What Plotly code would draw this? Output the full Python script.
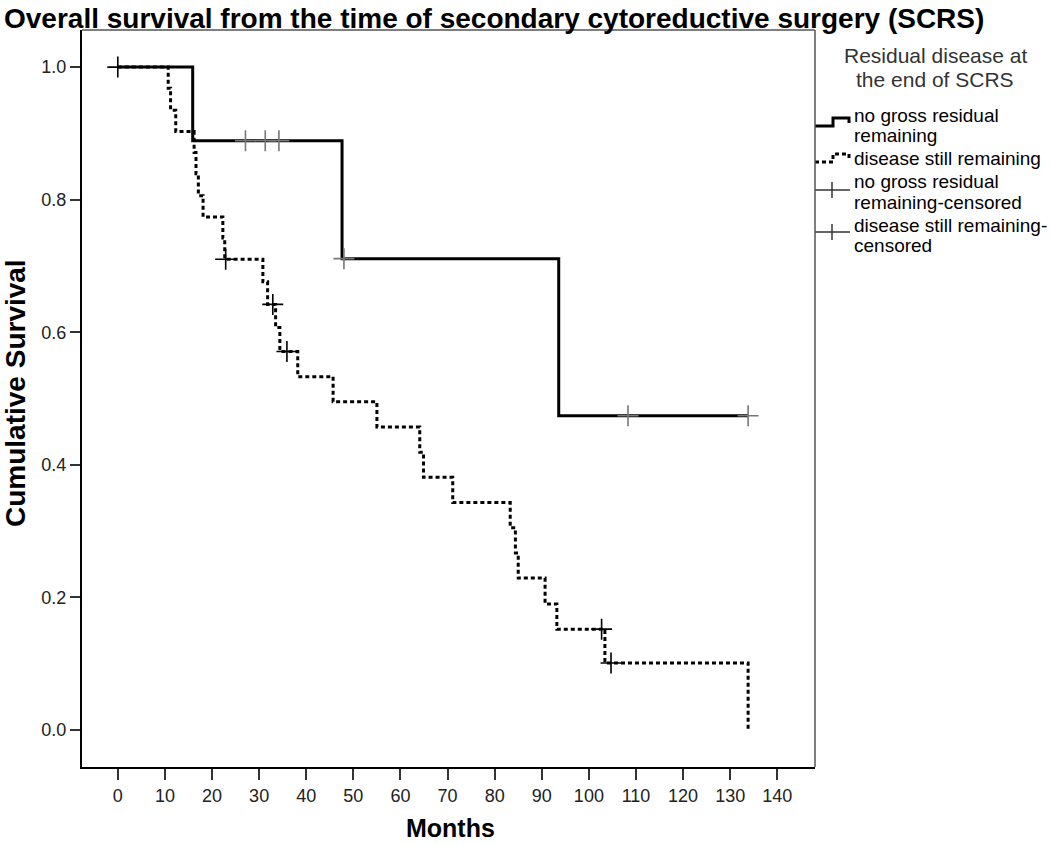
import plotly.graph_objects as go

# Kaplan-Meier step data (months, cumulative survival)
ngr_time = [0, 15.9, 47.6, 93.6, 133.8]
ngr_surv = [1.0, 0.889, 0.711, 0.474, 0.474]

dsr_time = [0, 10.7, 11.2, 12.3, 16.2, 16.6, 17.1, 18.1, 22.3, 22.7, 30.8, 31.8,
            33.5, 34.4, 38.2, 45.7, 55.0, 64.1, 64.9, 71.1, 83.3, 84.4, 85.0,
            90.7, 93.2, 103.4, 133.8]
dsr_surv = [1.0, 0.968, 0.935, 0.903, 0.871, 0.839, 0.806, 0.774, 0.742, 0.710,
            0.676, 0.642, 0.607, 0.571, 0.533, 0.495, 0.457, 0.419, 0.381, 0.343,
            0.305, 0.267, 0.229, 0.190, 0.152, 0.101, 0.0]

ngr_cens_time = [27.1, 31.3, 34.2, 48.0, 108.3, 133.8]
ngr_cens_surv = [0.889, 0.889, 0.889, 0.711, 0.474, 0.474]

dsr_cens_time = [0, 22.9, 32.9, 35.9, 102.7, 104.7]
dsr_cens_surv = [1.0, 0.710, 0.642, 0.571, 0.152, 0.101]

x_ticks = [0, 10, 20, 30, 40, 50, 60, 70, 80, 90, 100, 110, 120, 130, 140]
y_ticks = [0.0, 0.2, 0.4, 0.6, 0.8, 1.0]

legend_title = ["Residual disease at", "the end of SCRS"]
legend_labels = [
    ["no gross residual", "remaining"],
    ["disease still remaining"],
    ["no gross residual", "remaining-censored"],
    ["disease still remaining-", "censored"],
]

FONT = "Arial, Liberation Sans, sans-serif"
W, H = 1050, 844
ML, MR, MT, MB = 82, 235, 30, 77
PW, PH = W - ML - MR, H - MT - MB


def px(x):
    return (x - ML) / PW


def py(y):
    return 1 - (y - MT) / PH


fig = go.Figure()
fig.add_trace(go.Scatter(x=ngr_time, y=ngr_surv, mode="lines", line_shape="hv",
                         line=dict(color="black", width=3),
                         name="no gross residual remaining"))
fig.add_trace(go.Scatter(x=dsr_time, y=dsr_surv, mode="lines", line_shape="hv",
                         line=dict(color="black", width=3, dash="4px,3px"),
                         name="disease still remaining"))
fig.add_trace(go.Scatter(x=ngr_cens_time, y=ngr_cens_surv, mode="markers",
                         marker=dict(symbol="cross-thin", size=15,
                                     line=dict(color="#777777", width=1.6)),
                         name="no gross residual remaining-censored"))
fig.add_trace(go.Scatter(x=dsr_cens_time, y=dsr_cens_surv, mode="markers",
                         marker=dict(symbol="cross-thin", size=15,
                                     line=dict(color="black", width=1.6)),
                         name="disease still remaining-censored"))

annotations = []
shapes = []

# plot title
annotations.append(dict(text="<b>Overall survival from the time of secondary cytoreductive surgery (SCRS)</b>",
                        x=px(2), y=py(18), xref="paper", yref="paper",
                        xanchor="left", yanchor="middle", showarrow=False,
                        font=dict(size=28, color="black", family=FONT)))

# axis titles
annotations.append(dict(text="<b>Months</b>", x=px(450), y=py(828), xref="paper", yref="paper",
                        xanchor="center", yanchor="middle", showarrow=False,
                        font=dict(size=25, color="black", family=FONT)))
annotations.append(dict(text="<b>Cumulative Survival</b>", x=px(15), y=py(393), xref="paper",
                        yref="paper", xanchor="center", yanchor="middle", showarrow=False,
                        textangle=-90, font=dict(size=28, color="black", family=FONT)))

# legend title
for txt, yy in zip(legend_title, [56, 79]):
    annotations.append(dict(text=txt, x=px(935), y=py(yy), xref="paper", yref="paper",
                            xanchor="center", yanchor="middle", showarrow=False,
                            font=dict(size=21, color="#333333", family=FONT)))

# legend labels
label_rows = [[115, 135], [159], [182, 202], [225, 245]]
for lines, rows in zip(legend_labels, label_rows):
    for txt, yy in zip(lines, rows):
        annotations.append(dict(text=txt, x=px(852), y=py(yy), xref="paper", yref="paper",
                                xanchor="left", yanchor="middle", showarrow=False,
                                font=dict(size=19, color="black", family=FONT)))


# legend glyphs
def step_path(y0):
    pts = [(815, y0 + 4), (833, y0 + 4), (833, y0 - 4), (849, y0 - 4), (849, y0 + 1)]
    return "M " + " L ".join(f"{px(a)},{py(b)}" for a, b in pts)


shapes.append(dict(type="path", path=step_path(122), xref="paper", yref="paper",
                   line=dict(color="black", width=3)))
shapes.append(dict(type="path", path=step_path(158), xref="paper", yref="paper",
                   line=dict(color="black", width=3, dash="4px,3px")))
for yy in [190, 232]:
    shapes.append(dict(type="line", x0=px(815), x1=px(850), y0=py(yy), y1=py(yy),
                       xref="paper", yref="paper", line=dict(color="#333333", width=1.5)))
    shapes.append(dict(type="line", x0=px(832), x1=px(832), y0=py(yy - 8), y1=py(yy + 8),
                       xref="paper", yref="paper", line=dict(color="#333333", width=1.5)))

# frame top / right (lighter)
shapes.append(dict(type="line", x0=0, x1=1, y0=1, y1=1, xref="paper", yref="paper",
                   line=dict(color="#555555", width=1.5)))
shapes.append(dict(type="line", x0=1, x1=1, y0=0, y1=1, xref="paper", yref="paper",
                   line=dict(color="#555555", width=1.5)))

fig.update_layout(
    width=W, height=H,
    paper_bgcolor="white", plot_bgcolor="white",
    margin=dict(l=ML, r=MR, t=MT, b=MB, autoexpand=False),
    font=dict(family=FONT, color="#222222"),
    showlegend=False,
    annotations=annotations,
    shapes=shapes,
    xaxis=dict(range=[-7.6, 148.0], tickvals=x_ticks, ticktext=[str(v) for v in x_ticks],
               showgrid=False, zeroline=False, showline=True, linecolor="black", linewidth=2,
               mirror=False, ticks="outside", ticklen=11, tickwidth=2, tickcolor="#333333",
               automargin=False,
               tickfont=dict(size=18, color="#222222", family=FONT)),
    yaxis=dict(range=[-0.056, 1.056], tickvals=y_ticks, ticktext=[f"{v:.1f}" for v in y_ticks],
               showgrid=False, zeroline=False, showline=True, linecolor="black", linewidth=2,
               mirror=False, ticks="outside", ticklen=10, tickwidth=2, tickcolor="#333333",
               automargin=False,
               tickfont=dict(size=18, color="#222222", family=FONT)),
)

fig.write_html("out.html", config={"displayModeBar": False},
               post_script="document.body.style.margin='0px';")
